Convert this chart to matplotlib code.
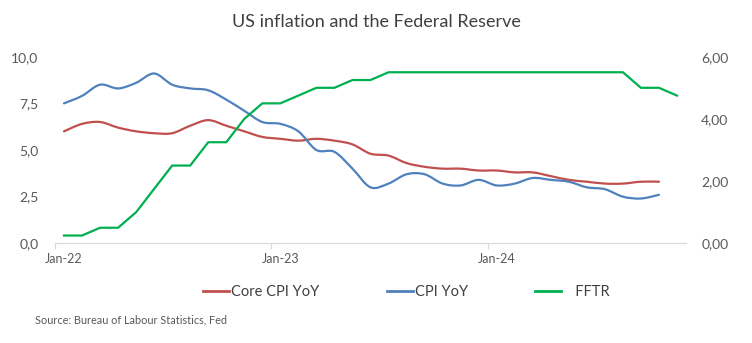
import numpy as np
import pandas as pd
import matplotlib
matplotlib.use("Agg")
import matplotlib.pyplot as plt
from matplotlib.path import Path
from matplotlib.patches import PathPatch
from matplotlib.lines import Line2D
from matplotlib.ticker import FuncFormatter, FixedLocator

plt.rcParams['font.family'] = ['Lato', 'DejaVu Sans']

# ---- data ----
months = pd.date_range("2022-01-01", "2024-11-01", freq="MS").strftime("%b-%y").tolist()
core_cpi = [6.0, 6.4, 6.5, 6.2, 6.0, 5.9, 5.9, 6.3, 6.6, 6.3, 6.0, 5.7,
            5.6, 5.5, 5.6, 5.5, 5.3, 4.8, 4.7, 4.3, 4.1, 4.0, 4.0, 3.9,
            3.9, 3.8, 3.8, 3.6, 3.4, 3.3, 3.2, 3.2, 3.3, 3.3]
cpi = [7.5, 7.9, 8.5, 8.3, 8.6, 9.1, 8.5, 8.3, 8.2, 7.7, 7.1, 6.5,
       6.4, 6.0, 5.0, 4.9, 4.0, 3.0, 3.2, 3.7, 3.7, 3.2, 3.1, 3.4,
       3.1, 3.2, 3.5, 3.4, 3.3, 3.0, 2.9, 2.5, 2.4, 2.6]
fftr = [0.25, 0.25, 0.50, 0.50, 1.00, 1.75, 2.50, 2.50, 3.25, 3.25, 4.00, 4.50,
        4.50, 4.75, 5.00, 5.00, 5.25, 5.25, 5.50, 5.50, 5.50, 5.50, 5.50, 5.50,
        5.50, 5.50, 5.50, 5.50, 5.50, 5.50, 5.50, 5.50, 5.00, 5.00, 4.75]
x_labels = ["Jan-22", "Jan-23", "Jan-24"]
series_names = ["Core CPI YoY", "CPI YoY", "FFTR"]
left_ticks = [0, 2.5, 5.0, 7.5, 10.0]
right_ticks = [0, 2, 4, 6]

RED = "#C0504D"
BLUE = "#4F81BD"
GREEN = "#00B050"
GREY_TXT = "#595959"


def smooth_path(xs, ys):
    """Excel-style smooth line rendered as cubic Bezier segments."""
    pts = np.column_stack([xs, ys]).astype(float)
    n = len(pts)
    verts = [pts[0]]
    codes = [Path.MOVETO]
    for i in range(n - 1):
        p0 = pts[i - 1] if i > 0 else pts[i]
        p1 = pts[i]
        p2 = pts[i + 1]
        p3 = pts[i + 2] if i + 2 < n else pts[i + 1]
        c1 = p1 + (p2 - p0) / 6.0
        c2 = p2 - (p3 - p1) / 6.0
        verts += [c1, c2, p2]
        codes += [Path.CURVE4] * 3
    return Path(verts, codes)


fig = plt.figure(figsize=(7.52, 3.43), dpi=100)
ax = fig.add_axes([55 / 752, 1 - 243.3 / 343, 631 / 752, 186.6 / 343])
ax2 = ax.twinx()

xi = np.arange(len(core_cpi))
ax.add_patch(PathPatch(smooth_path(xi, core_cpi), facecolor="none", edgecolor=RED,
                       lw=1.6, capstyle="round", joinstyle="round"))
ax.add_patch(PathPatch(smooth_path(np.arange(len(cpi)), cpi), facecolor="none",
                       edgecolor=BLUE, lw=1.6, capstyle="round", joinstyle="round"))
ax2.plot(np.arange(len(fftr)), fftr, color=GREEN, lw=1.6, solid_joinstyle="round")

ax.set_xlim(-0.5, len(months) - 0.5)
ax.set_ylim(0, 10)
ax2.set_ylim(0, 6)

label_pos = [months.index(l) for l in x_labels]
ax.xaxis.set_major_locator(FixedLocator(label_pos))
ax.set_xticklabels(x_labels)
ax.xaxis.set_minor_locator(FixedLocator([p - 0.5 for p in label_pos]))
ax.tick_params(axis="x", which="major", length=0, pad=7, labelsize=9, labelcolor=GREY_TXT)
ax.tick_params(axis="x", which="minor", length=4, color="#D9D9D9", width=0.8)

ax.yaxis.set_major_locator(FixedLocator(left_ticks))
ax.yaxis.set_major_formatter(FuncFormatter(lambda v, p: f"{v:.1f}".replace(".", ",")))
ax.tick_params(axis="y", length=0, pad=12, labelsize=10, labelcolor=GREY_TXT)

ax2.yaxis.set_major_locator(FixedLocator(right_ticks))
ax2.yaxis.set_major_formatter(FuncFormatter(lambda v, p: f"{v:.2f}".replace(".", ",")))
ax2.tick_params(axis="y", length=0, pad=11, labelsize=10, labelcolor=GREY_TXT)

for a in (ax, ax2):
    for s in ("top", "left", "right"):
        a.spines[s].set_visible(False)
    a.spines["bottom"].set_color("#D9D9D9")
    a.spines["bottom"].set_linewidth(0.9)
ax2.spines["bottom"].set_visible(False)

fig.text(0.5, 1 - 22 / 343, "US inflation and the Federal Reserve", ha="center",
         va="center", fontsize=13, color="#404040")

handles = [Line2D([], [], color=c, lw=2) for c in (RED, BLUE, GREEN)]
labels = [series_names[0], series_names[1], "   " + series_names[2]]
fig.legend(handles, labels, loc="center", bbox_to_anchor=(406 / 752, 1 - 292 / 343),
           ncol=3, frameon=False, fontsize=10.5, handlelength=1.8, handletextpad=0.15,
           columnspacing=4.6, labelcolor="#404040")

fig.text(35 / 752, 1 - 320 / 343, "Source: Bureau of Labour Statistics, Fed", ha="left",
         va="center", fontsize=7.8, color="#595959")

fig.savefig("out.png", dpi=100)
